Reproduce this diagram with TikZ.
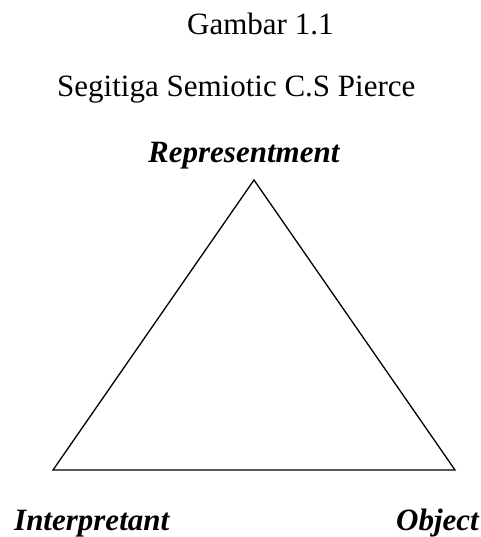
\documentclass[tikz,border=0pt]{standalone}
\usepackage{fontspec}
\setmainfont{Liberation Serif}
\begin{document}
\begin{tikzpicture}[x=1pt,y=1pt,
  lbl/.style={inner sep=0pt,anchor=base west,font=\fontsize{31}{36}\selectfont},
  vlbl/.style={lbl,font=\fontsize{31}{36}\selectfont\bfseries\itshape},
  edge/.style={draw=black,line width=1.3pt,line join=miter}]
\useasboundingbox (0,0) rectangle (480,537);
\node[lbl] (title) at (187,502) {Gambar 1.1};
\node[lbl] (sub) at (57,440) {Segitiga Semiotic C.S Pierce};
\node[vlbl] (rep) at (148,374) {Representment};
\node[vlbl] (int) at (14,6) {Interpretant};
\node[vlbl] (obj) at (396,6) {Object};
\coordinate (A) at (254,357);
\coordinate (B) at (53,67);
\coordinate (C) at (455,67);
\draw[edge] (A) -- (B) -- (C) -- cycle;
\end{tikzpicture}
\end{document}
